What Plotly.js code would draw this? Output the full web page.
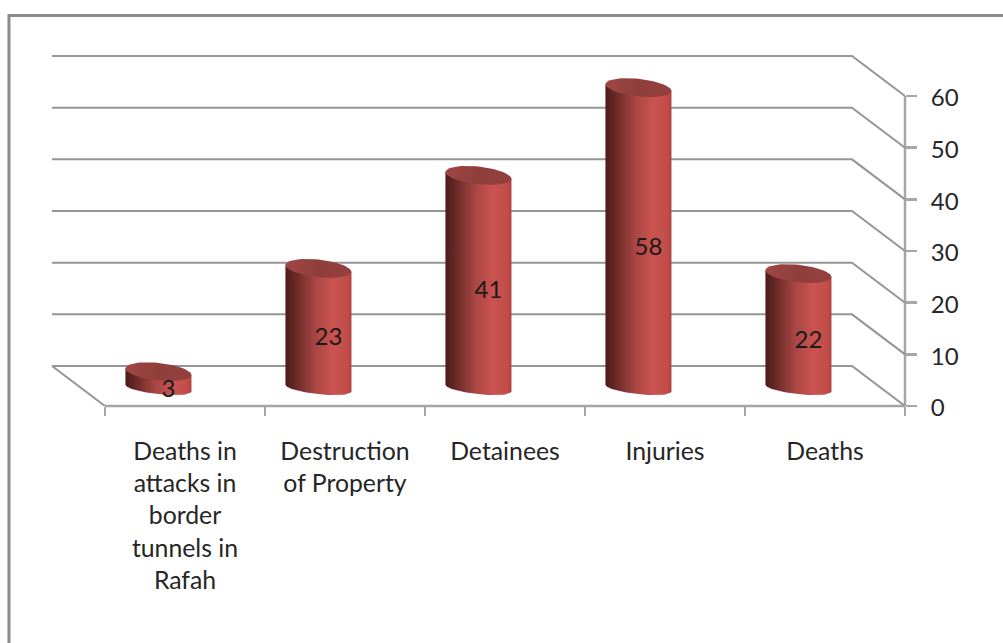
<!DOCTYPE html>
<html>
<head>
<meta charset="utf-8">
<script src="https://cdn.plot.ly/plotly-3.0.1.min.js"></script>
<style>html,body{margin:0;padding:0;background:#fff}#chart{width:1003px;height:643px}</style>
</head>
<body>
<div id="chart"></div>
<script>
const categories = ["Deaths in<br>attacks in<br>border<br>tunnels in<br>Rafah", "Destruction<br>of Property", "Detainees", "Injuries", "Deaths"];
const values = [3, 23, 41, 58, 22];
const yTicks = [0, 10, 20, 30, 40, 50, 60];

// 3D look, in axis units
const pxX = 160, pxY = 310 / 60;
const depthX = 53 / pxX, depthY = 40 / pxY;
const rx = 33 / pxX, capRy = 8.8 / pxY, baseRy = 6.2 / pxY, skew = 3.4 / pxY;
const baseY = 18 / pxY, capLift = 0.15, centerShift = 0.166;
const FONT = "Lato, Carlito, sans-serif", INK = "#262626", GRID = "#969696", AXIS = "#a6a6a6";

const angles = Array.from({length: 61}, (_, i) => i * Math.PI / 30);
const rimX = (c, a) => c + rx * Math.cos(a);
const rimY = (y, a, r) => y + r * Math.sin(a) - skew * Math.cos(a);

const traces = [];

// walls and floor grid
const gx = [], gy = [];
yTicks.forEach(t => {
  gx.push(-depthX, 5 - depthX, 5, null);
  gy.push(t + depthY, t + depthY, t, null);
});
gx.push(-depthX, 0); gy.push(depthY, 0);
traces.push({type: "scatter", mode: "lines", x: gx, y: gy, cliponaxis: false, hoverinfo: "skip",
  showlegend: false, line: {color: GRID, width: 2}});

// cylinders
values.forEach((v, i) => {
  const c = i + 0.5 - centerShift, capY = baseY + v + capLift;
  const front = angles.filter(a => a >= Math.PI - 1e-9 && a <= 2 * Math.PI + 1e-9);
  const bx = front.map(a => rimX(c, a)), by = front.map(a => rimY(baseY, a, baseRy));
  bx.push(rimX(c, 0), rimX(c, Math.PI)); by.push(rimY(capY, 0, capRy), rimY(capY, Math.PI, capRy));
  bx.push(bx[0]); by.push(by[0]);
  traces.push({type: "scatter", mode: "lines", x: bx, y: by, fill: "toself", cliponaxis: false,
    hoverinfo: "skip", showlegend: false, line: {width: 0, color: "rgba(0,0,0,0)"},
    fillgradient: {type: "horizontal", colorscale: [[0, "#4c1c1b"], [0.18, "#6e2b29"], [0.45, "#a84644"], [0.72, "#cb5350"], [0.95, "#c04d4a"], [1, "#a83f3d"]]}});
  traces.push({type: "scatter", mode: "lines", x: angles.map(a => rimX(c, a)), y: angles.map(a => rimY(capY, a, capRy)),
    fill: "toself", cliponaxis: false, hoverinfo: "skip", showlegend: false,
    line: {width: 0, color: "rgba(0,0,0,0)"},
    fillgradient: {type: "horizontal", colorscale: [[0, "#a04745"], [0.5, "#8f3e3c"], [1, "#95403e"]]}});
});

// data labels
traces.push({type: "scatter", mode: "text", cliponaxis: false, hoverinfo: "skip", showlegend: false,
  x: values.map((v, i) => i + 0.5 - centerShift + 0.0625),
  y: values.map(v => baseY + v / 2 - 2.0),
  text: values.map(String), textposition: "middle center",
  textfont: {family: FONT, size: 24, color: "#1a1a1a"}});

const plotL = 40, plotT = 40; // plot area reaches the back wall
const frameX = (9 - plotL) / (905 - plotL), frameY = (406 - 15.5) / (406 - plotT);
const axisStart = (105 - plotL) / (905 - plotL), axisTop = (406 - 96) / (406 - plotT);
const layout = {
  width: 1003, height: 643,
  margin: {l: plotL, r: 98, t: plotT, b: 237, pad: 0},
  paper_bgcolor: "#ffffff", plot_bgcolor: "rgba(0,0,0,0)",
  showlegend: false,
  xaxis: {range: [(plotL - 105) / pxX, 5], fixedrange: true, showgrid: false, zeroline: false, showline: false,
    tickmode: "array", tickvals: categories.map((c, i) => i + 0.5), ticktext: categories, tickangle: 0,
    ticks: "", tickfont: {family: FONT, size: 24.8, color: INK}, ticklabelstandoff: 28,
    minor: {tickmode: "array", tickvals: [0, 1, 2, 3, 4, 5], ticks: "outside", ticklen: 9, tickwidth: 2.5, tickcolor: AXIS, showgrid: false}},
  yaxis: {range: [0, (406 - plotT) / pxY], fixedrange: true, side: "right", showgrid: false, zeroline: false, showline: false,
    tickmode: "array", tickvals: yTicks, ticks: "outside", ticklen: 11, tickwidth: 2.5, tickcolor: AXIS,
    tickfont: {family: FONT, size: 24, color: INK}, ticklabelstandoff: 9, ticklabelshift: 2},
  shapes: [
    {type: "path", xref: "paper", yref: "paper", layer: "below",
     path: `M ${frameX},-1 L ${frameX},${frameY} L 1.2,${frameY}`, line: {color: "#8c8c8c", width: 3}},
    {type: "line", xref: "paper", yref: "paper", layer: "below", x0: axisStart, x1: 1, y0: 0, y1: 0, line: {color: AXIS, width: 2.5}},
    {type: "line", xref: "paper", yref: "paper", layer: "below", x0: 1, x1: 1, y0: 0, y1: axisTop, line: {color: AXIS, width: 2.5}}
  ]
};
Plotly.newPlot("chart", traces, layout, {displayModeBar: false, staticPlot: true});
</script>
</body>
</html>
